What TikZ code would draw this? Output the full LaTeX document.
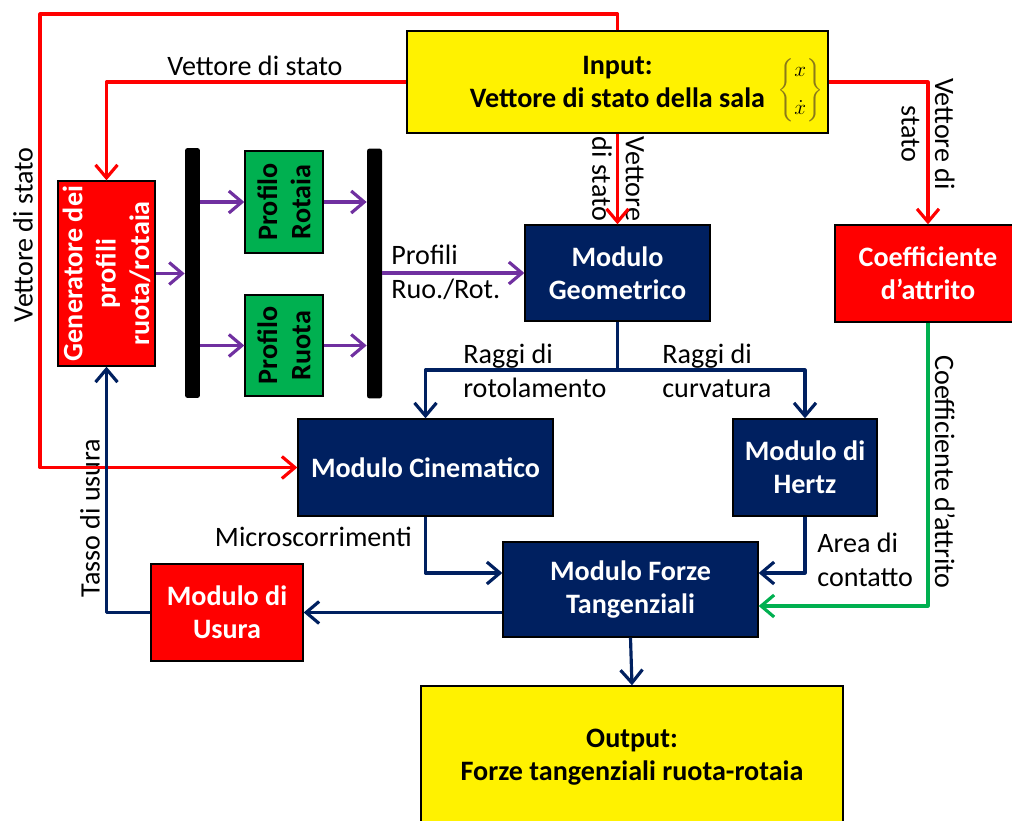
\documentclass[tikz,border=0pt]{standalone}
\usepackage{fontspec}
\setmainfont{Carlito}
\usepackage{amsmath}
\usetikzlibrary{arrows.meta}

\definecolor{navyblue}{HTML}{002060}
\definecolor{boxgreen}{HTML}{00B050}
\definecolor{lineviolet}{HTML}{7030A0}
\definecolor{braceolive}{HTML}{8A7A1A}

\newcommand{\diagfont}{\fontsize{16}{19}\selectfont}
\newcommand{\statevec}{{\fontsize{13}{15}\selectfont\color{braceolive}%
  $\left\{\begin{matrix}\color{black}x\\[7pt] \color{black}\dot{x}\end{matrix}\right\}$}}

\tikzset{
  blk/.style={draw=black, line width=0.8pt, align=center, inner sep=0pt,
    font=\diagfont\bfseries},
  navybox/.style={blk, fill=navyblue, text=white},
  redbox/.style={blk, fill=red, text=white},
  yellowbox/.style={blk, fill=yellow, text=black},
  greenbox/.style={blk, fill=boxgreen, text=black, rotate=90,
    minimum height=1.56cm},
  blackbar/.style={fill=black, rounded corners=1.5pt, minimum width=0.3cm,
    minimum height=5cm, inner sep=0pt},
  lbl/.style={align=left, inner sep=0pt},
  conn/.style={line width=1.8pt, line join=round,
    -{Straight Barb[length=0.26cm, width=0.44cm]}},
  rline/.style={conn, red},
  nline/.style={conn, navyblue},
  pline/.style={conn, lineviolet},
  gline/.style={conn, boxgreen},
}

\begin{document}
\begin{tikzpicture}[x=0.02cm, y=-0.02cm, font=\diagfont]
    \useasboundingbox (0,0) rectangle (1012,821);

    % boxes
    \node[yellowbox, minimum width=8.42cm, minimum height=2.04cm] (input) at (617.5,82)
        {Input:\\Vettore di stato della sala%
         \rlap{\hspace{0.25cm}\smash{\raisebox{7pt}{\statevec}}}};
    \node[redbox, rotate=90, minimum width=3.7cm, minimum height=1.94cm] (gen) at (106.5,273.5)
        {Generatore dei\\profili\\ruota/rotaia};
    \node[blackbar] (barL) at (192.5,273) {};
    \node[greenbox, minimum width=2.04cm] (rotaia) at (284,202) {Profilo\\Rotaia};
    \node[greenbox, minimum width=2.02cm] (ruota) at (284,345.5) {Profilo\\Ruota};
    \node[blackbar] (barR) at (374.5,273.5) {};
    \node[navybox, minimum width=3.7cm, minimum height=1.92cm] (geom) at (617.5,273)
        {Modulo\\Geometrico};
    \node[redbox, minimum width=3.72cm, minimum height=1.94cm] (coef) at (928,273.5)
        {Coefficiente\\d’attrito};
    \node[navybox, minimum width=5.1cm, minimum height=1.94cm] (cinem) at (425.5,467.5)
        {Modulo Cinematico};
    \node[navybox, minimum width=2.88cm, minimum height=1.94cm] (hertz) at (805,467.5)
        {Modulo di\\Hertz};
    \node[navybox, minimum width=5.1cm, minimum height=1.9cm] (forze) at (630.5,589.5)
        {Modulo Forze\\Tangenziali};
    \node[redbox, minimum width=3.04cm, minimum height=1.94cm] (usura) at (227,612.5)
        {Modulo di\\Usura};
    \node[yellowbox, minimum width=8.44cm, minimum height=2.84cm] (output) at (632,757)
        {Output:\\Forze tangenziali ruota-rotaia};

    % labels
    \node[lbl] (lblvs) at (255,66) {Vettore di stato};
    \node[lbl, rotate=90] (lblvsleft) at (23,235) {Vettore di stato};
    \node[lbl, rotate=-90, align=center] (lblvsgeom) at (618,179) {Vettore\\di stato};
    \node[lbl, rotate=-90, align=center] (lblvscoef) at (928,134) {Vettore di\\stato};
    \node[lbl, rotate=-90] (lblcoef) at (945,472) {Coefficiente d’attrito};
    \node[lbl, anchor=west] (lblprof) at (391,272.5) {Profili\\Ruo./Rot.};
    \node[lbl, anchor=west] (lblrot) at (463,371) {Raggi di\\rotolamento};
    \node[lbl, anchor=west] (lblcurv) at (662,371) {Raggi di\\curvatura};
    \node[lbl, anchor=east] (lblmicro) at (412,537) {Microscorrimenti};
    \node[lbl, anchor=west] (lblarea) at (817,560) {Area di\\contatto};
    \node[lbl, rotate=90] (lblusura) at (90,518) {Tasso di usura};

    % red connectors
    \coordinate (topleft) at (40,14);
    \draw[rline] (input.north) |- (topleft) |- (cinem.west);
    \draw[rline] (input.west) -| (gen.east);
    \draw[rline] (input.south) -- (geom.north);
    \draw[rline] (input.east) -| (coef.north);

    % violet connectors
    \draw[pline] (gen.south) -- (gen.south -| barL.west);
    \draw[pline] (barL.east |- rotaia) -- (rotaia.north);
    \draw[pline] (barL.east |- ruota) -- (ruota.north);
    \draw[pline] (rotaia.south) -- (rotaia -| barR.west);
    \draw[pline] (ruota.south) -- (ruota -| barR.west);
    \draw[pline] (barR.east |- geom) -- (geom.west);

    % navy connectors
    \coordinate (split) at (617.5,370);
    \draw[nline] (geom.south) -- (split) -| (cinem.north);
    \draw[nline] (split) -| (hertz.north);
    \draw[nline] (cinem.south) |- ([yshift=0.33cm]forze.west);
    \draw[nline] (hertz.south) |- ([yshift=0.33cm]forze.east);
    \draw[nline] (forze.west |- usura) -- (usura.east);
    \draw[nline] (usura.west) -| (gen.west);
    \draw[nline] (forze.south) -- (output.north);

    % green connector
    \draw[gline] (coef.south) |- ([yshift=-0.33cm]forze.east);
\end{tikzpicture}
\end{document}
